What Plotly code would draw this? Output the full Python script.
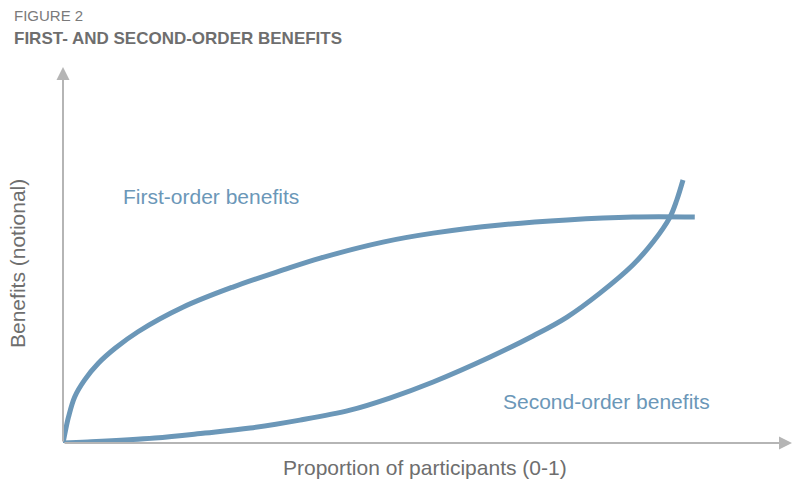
import plotly.graph_objects as go

# Kurven (x = Anteil Teilnehmer, y = Nutzen, nur notional)
first_x = [0, 0.002, 0.009, 0.019, 0.035, 0.057, 0.084, 0.121, 0.194, 0.274,
           0.355, 0.415, 0.516, 0.597, 0.705, 0.813, 0.919, 1.019]
first_y = [0, 0.024, 0.100, 0.176, 0.240, 0.303, 0.360, 0.423, 0.517, 0.593,
           0.658, 0.703, 0.764, 0.798, 0.829, 0.848, 0.859, 0.859]

second_x = [0, 0.040, 0.148, 0.229, 0.302, 0.382, 0.463, 0.527, 0.597, 0.689,
            0.758, 0.813, 0.866, 0.919, 0.952, 0.979, 0.990, 1.0]
second_y = [0, 0.004, 0.019, 0.038, 0.057, 0.087, 0.125, 0.171, 0.232, 0.327,
            0.407, 0.479, 0.570, 0.677, 0.765, 0.859, 0.924, 1.0]

blue = '#6b97b8'
grey = '#b5b5b5'
text_grey = '#6e6e6e'
font = 'Liberation Sans'

W, H = 792, 480


# Pixel im Fenster -> paper-Koordinaten (Body-Rand wird unten auf 0 gesetzt)
def px(x):
    return x / W


def py(y):
    return (H - y) / H


fig = go.Figure()

fig.add_trace(go.Scatter(x=first_x, y=first_y, mode='lines', line_shape='spline',
                         line=dict(color=blue, width=5), name='First-order benefits'))
fig.add_trace(go.Scatter(x=second_x, y=second_y, mode='lines', line_shape='spline',
                         line=dict(color=blue, width=5), name='Second-order benefits'))

# Ursprung bei (63, 443), x=1 bei 683 px, y=1 bei 180 px
x_max = (792 - 63) / 620
y_max = (443 - 67) / 263

# Achsen mit Pfeilen
fig.add_annotation(x=x_max, y=0, ax=0, ay=0, xref='x', yref='y', axref='x', ayref='y',
                   showarrow=True, arrowhead=2, arrowsize=1.3, arrowwidth=2, arrowcolor=grey, text='')
fig.add_annotation(x=0, y=y_max, ax=0, ay=0, xref='x', yref='y', axref='x', ayref='y',
                   showarrow=True, arrowhead=2, arrowsize=1.3, arrowwidth=2, arrowcolor=grey, text='')

fig.add_annotation(x=0.239, y=0.939, text='First-order benefits', showarrow=False,
                   font=dict(family=font, size=21, color=blue))
fig.add_annotation(x=0.877, y=0.156, text='Second-order benefits', showarrow=False,
                   font=dict(family=font, size=21, color=blue))

fig.add_annotation(x=px(425), y=py(467), xref='paper', yref='paper', showarrow=False,
                   xanchor='center', yanchor='middle',
                   text='Proportion of participants (0-1)', font=dict(family=font, size=21, color=text_grey))
fig.add_annotation(x=px(17), y=py(264), xref='paper', yref='paper', showarrow=False, textangle=-90,
                   xanchor='center', yanchor='middle',
                   text='Benefits (notional)', font=dict(family=font, size=21, color=text_grey))

fig.add_annotation(x=px(12), y=py(15), xref='paper', yref='paper', showarrow=False,
                   xanchor='left', yanchor='middle',
                   text='FIGURE 2', font=dict(family=font, size=15, color='#7a7a7a'))
fig.add_annotation(x=px(12), y=py(38), xref='paper', yref='paper', showarrow=False,
                   xanchor='left', yanchor='middle',
                   text='<b>FIRST- AND SECOND-ORDER BENEFITS</b>', font=dict(family=font, size=17, color=text_grey))

fig.update_xaxes(range=[0, x_max], domain=[px(63), 1], visible=False)
fig.update_yaxes(range=[0, y_max], domain=[py(443), py(67)], visible=False)
fig.update_layout(width=W, height=H, showlegend=False,
                  margin=dict(l=0, r=0, t=0, b=0),
                  plot_bgcolor='white', paper_bgcolor='white')

fig.write_html("out.html", config={'displayModeBar': False},
               post_script="document.body.style.margin = '0px';")
